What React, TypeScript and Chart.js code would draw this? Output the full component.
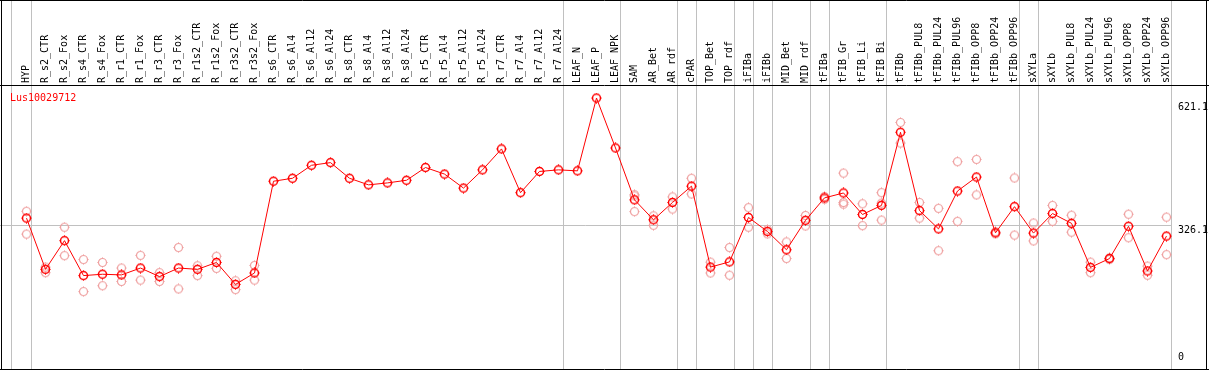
import React, { useEffect, useRef } from "react";
import { Chart, registerables } from "chart.js";

Chart.register(...registerables);

const geneId = "Lus10029712";

const categories = [
  "HYP", "R_s2_CTR", "R_s2_Fox", "R_s4_CTR", "R_s4_Fox", "R_r1_CTR", "R_r1_Fox", "R_r3_CTR", "R_r3_Fox",
  "R_r1s2_CTR", "R_r1s2_Fox", "R_r3s2_CTR", "R_r3s2_Fox", "R_s6_CTR", "R_s6_Al4", "R_s6_Al12", "R_s6_Al24",
  "R_s8_CTR", "R_s8_Al4", "R_s8_Al12", "R_s8_Al24", "R_r5_CTR", "R_r5_Al4", "R_r5_Al12", "R_r5_Al24",
  "R_r7_CTR", "R_r7_Al4", "R_r7_Al12", "R_r7_Al24", "LEAF_N", "LEAF_P", "LEAF_NPK", "SAM", "AR_Bet", "AR_rdf",
  "cPAR", "TOP_Bet", "TOP_rdf", "iFIBa", "iFIBb", "MID_Bet", "MID_rdf", "tFIBa", "tFIB_Gr", "tFIB_Li", "tFIB_Bi",
  "tFIBb", "tFIBb_PUL8", "tFIBb_PUL24", "tFIBb_PUL96", "tFIBb_OPP8", "tFIBb_OPP24", "tFIBb_OPP96", "sXYLa",
  "sXYLb", "sXYLb_PUL8", "sXYLb_PUL24", "sXYLb_PUL96", "sXYLb_OPP8", "sXYLb_OPP24", "sXYLb_OPP96",
];

const meanValues = [
  343.3, 220.3, 289.2, 205.3, 208.5, 206.9, 223.4, 202.9, 223.4, 220.3, 236.8, 184.1, 211.6,
  431.9, 439.0, 470.2, 476.6, 439.0, 423.2, 427.9, 434.2, 464.8, 449.1, 415.4, 459.2, 509.5, 404.4, 455.4, 459.2, 456.8,
  631.7, 511.8, 387.2, 339.3, 380.9, 420.1, 225.7, 238.2, 344.9, 311.1, 267.3, 337.9, 391.9, 403.7, 352.0, 373.8,
  549.5, 361.4, 317.4, 408.4, 442.0, 308.0, 370.8, 307.3, 354.3, 330.8, 225.0, 246.2, 323.7, 216.3, 300.2,
];

const replicates: number[][] = [
  [359.7, 304.9], [225.7, 212.3], [321.4, 253.2], [243.8, 166.9], [236.8, 181.0], [223.4, 191.1],
  [253.9, 194.4], [212.3, 191.1], [272.7, 173.3], [228.8, 205.3], [251.6, 222.6], [192.8, 171.6], [229.7, 194.4],
  [], [], [], [], [], [], [], [], [], [], [], [], [], [], [], [], [], [], [],
  [399.7, 396.6, 359.0], [348.7, 326.1], [394.3, 365.1], [439.0, 401.3], [237.5, 211.6], [272.7, 206.2],
  [368.4, 321.4], [315.8, 305.6], [286.1, 246.2], [349.6, 324.5], [395.0, 388.6], [451.4, 380.9, 376.9],
  [377.8, 325.2], [404.4, 379.2, 338.6], [573.0, 523.6], [380.9, 343.3], [366.8, 265.0], [478.9, 335.5],
  [484.3, 399.0], [310.3, 305.6], [439.7, 302.6], [331.5, 288.5], [373.8, 335.5], [350.3, 309.6],
  [237.5, 212.3], [247.6, 243.8], [352.7, 296.2], [228.1, 206.2], [345.6, 255.6],
];

const yTickValues = [0, 326.1, 621.1];
const gridValue = 326.1;
const groupEnds = [0, 28, 31, 34, 35, 37, 38, 39, 41, 42, 45, 52, 53, 60];

const FONT = "DejaVu Sans Mono";

function makeMarker(color: string, lw: number): HTMLCanvasElement {
  const c = document.createElement("canvas");
  c.width = 11;
  c.height = 11;
  const g = c.getContext("2d")!;
  g.strokeStyle = color;
  g.fillStyle = color;
  g.lineWidth = lw;
  g.beginPath();
  g.arc(5.5, 5.5, 4, 0, Math.PI * 2);
  g.stroke();
  g.globalAlpha = 0.6;
  g.fillRect(5, 0, 1, 1);
  g.fillRect(5, 10, 1, 1);
  g.fillRect(0, 5, 1, 1);
  g.fillRect(10, 5, 1, 1);
  return c;
}

export default function App() {
  const ref = useRef<HTMLCanvasElement | null>(null);

  useEffect(() => {
    document.body.style.margin = "0";
    const canvas = ref.current!;
    const meanMarker = makeMarker("#ff0000", 1.5);
    const repMarker = makeMarker("#ef9f9f", 1.2);

    const repData: { x: number; y: number }[] = [];
    replicates.forEach((arr, i) => arr.forEach((v) => repData.push({ x: i, y: v })));

    const W = 1209;
    const step = 19;
    const firstX = 26.5;
    const xMin = -firstX / step;
    const xMax = xMin + W / step;

    const decor = {
      id: "decor",
      beforeDatasetsDraw(chart: any) {
        const { ctx } = chart;
        const xs = chart.scales.x;
        const ys = chart.scales.y;
        ctx.save();
        ctx.strokeStyle = "#c0c0c0";
        ctx.lineWidth = 1;
        const seps = [-0.8, ...groupEnds.map((g) => g + 0.25)];
        let lastX = 0;
        for (const s of seps) {
          const x = Math.floor(xs.getPixelForValue(s)) + 0.5;
          lastX = x;
          ctx.beginPath();
          ctx.moveTo(x, 0);
          ctx.lineTo(x, chart.height);
          ctx.stroke();
        }
        const gy = Math.round(ys.getPixelForValue(gridValue)) + 0.5;
        ctx.beginPath();
        ctx.moveTo(0, gy);
        ctx.lineTo(lastX, gy);
        ctx.stroke();
        ctx.restore();
      },
      afterDraw(chart: any) {
        const { ctx } = chart;
        const ys = chart.scales.y;
        ctx.save();
        ctx.strokeStyle = "#000000";
        ctx.lineWidth = 1;
        ctx.beginPath();
        ctx.moveTo(0, 0.5);
        ctx.lineTo(W, 0.5);
        ctx.moveTo(0, 85.5);
        ctx.lineTo(W, 85.5);
        ctx.moveTo(0, chart.height - 0.5);
        ctx.lineTo(W, chart.height - 0.5);
        ctx.moveTo(1.5, 0);
        ctx.lineTo(1.5, chart.height);
        ctx.moveTo(1206.5, 0);
        ctx.lineTo(1206.5, chart.height);
        ctx.stroke();
        ctx.font = `10px "${FONT}"`;
        ctx.fillStyle = "#ff0000";
        ctx.textAlign = "left";
        ctx.textBaseline = "alphabetic";
        ctx.fillText(geneId, 10, 101);
        ctx.fillStyle = "#000000";
        for (const v of yTickValues) {
          const y = ys.getPixelForValue(v);
          if (v === 0) {
            ctx.textBaseline = "bottom";
            ctx.fillText(String(v), 1178, y + 1);
          } else {
            ctx.textBaseline = "top";
            ctx.fillText(v.toFixed(1), 1178, y);
          }
        }
        ctx.restore();
      },
    };

    const chart = new Chart(canvas, {
      type: "line",
      data: {
        datasets: [
          {
            label: "mean",
            data: meanValues.map((v, i) => ({ x: i, y: v })),
            borderColor: "#ff0000",
            backgroundColor: "#ff0000",
            borderWidth: 1,
            pointStyle: meanMarker as any,
            pointRadius: 5,
            tension: 0,
            showLine: true,
            clip: false as any,
          },
          {
            label: "replicates",
            data: repData,
            showLine: false,
            borderColor: "#ef9f9f",
            backgroundColor: "#ef9f9f",
            pointStyle: repMarker as any,
            pointRadius: 5,
            clip: false as any,
          },
        ],
      },
      options: {
        responsive: false,
        animation: false,
        events: [],
        layout: { padding: 0 },
        plugins: {
          legend: { display: false },
          tooltip: { enabled: false },
          title: { display: false },
        },
        scales: {
          x: {
            type: "linear",
            position: "top",
            fullSize: true,
            min: xMin,
            max: xMax,
            afterBuildTicks: (s: any) => {
              s.ticks = categories.map((_, i) => ({ value: i }));
            },
            afterFit: (s: any) => {
              s.height = 85;
              s.paddingLeft = 0;
              s.paddingRight = 0;
            },
            grid: { display: false, drawTicks: false },
            border: { display: false },
            ticks: {
              autoSkip: false,
              minRotation: 90,
              maxRotation: 90,
              padding: 2,
              labelOffset: 12,
              color: "#000000",
              font: { family: FONT, size: 10 },
              callback: (v: any) => categories[Math.round(Number(v))] ?? "",
            },
          },
          y: {
            type: "linear",
            display: false,
            min: -7.05,
            max: 663,
          },
        },
      },
      plugins: [decor],
    } as any);

    return () => chart.destroy();
  }, []);

  return (
    <div style={{ width: 1209, height: 370 }}>
      <canvas ref={ref} width={1209} height={370} style={{ display: "block" }} />
    </div>
  );
}
